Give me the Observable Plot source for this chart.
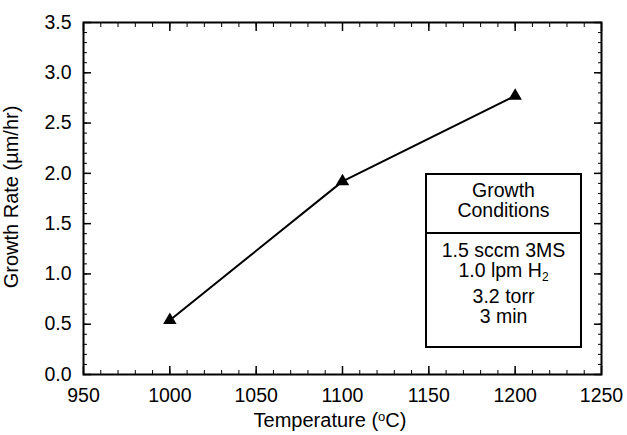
<!DOCTYPE html>
<html><head><meta charset="utf-8">
<script src="https://cdn.jsdelivr.net/npm/d3@7"></script>
<script src="https://cdn.jsdelivr.net/npm/@observablehq/plot@0.6"></script>
<style>
body{margin:0;background:#fff;font-family:"Liberation Sans",Arial,sans-serif;}
#wrap{position:relative;width:627px;height:435px;}
#legend{position:absolute;left:425px;top:173px;width:153px;height:171px;border:2px solid #000;box-sizing:content-box;font-size:19.5px;text-align:center;line-height:20px;color:#000;}
#legend .head{height:59px;border-bottom:2.5px solid #000;padding-top:5px;box-sizing:border-box;}
#legend .body{padding-top:6px;}
#legend sub{font-size:12px;vertical-align:-4px;line-height:0;}
</style></head>
<body><div id="wrap"><div id="legend"><div class="head">Growth<br>Conditions</div><div class="body">1.5 sccm 3MS<br>1.0 lpm H<sub>2</sub><div style="margin-top:6px">3.2 torr<br>3 min</div></div></div></div>
<script>
const temperature = [1000, 1100, 1200];
const growthRate = [0.54, 1.92, 2.77];
const xTicks = [950, 1000, 1050, 1100, 1150, 1200, 1250];
const yTicks = [0, 0.5, 1.0, 1.5, 2.0, 2.5, 3.0, 3.5];
const xMinor = d3.range(950, 1251, 10);
const yMinor = d3.range(0, 36, 1).map(d => d / 10);

const data = temperature.map((t, i) => ({t, r: growthRate[i]}));
const font = "Liberation Sans, Arial, sans-serif";

const chart = Plot.plot({
  width: 627, height: 435,
  marginLeft: 83, marginRight: 26, marginTop: 22, marginBottom: 61,
  style: {fontFamily: font, fontSize: "19.5px", color: "#000", background: "white"},
  x: {domain: [950, 1250]},
  y: {domain: [0, 3.5]},
  marks: [
    Plot.frame({stroke: "#000", strokeWidth: 2}),
    Plot.axisX(xMinor, {anchor: "bottom", tickSize: -4, text: null, label: null, strokeWidth: 1}),
    Plot.axisX(xMinor, {anchor: "top", tickSize: -4, text: null, label: null, strokeWidth: 1}),
    Plot.axisY(yMinor, {anchor: "left", tickSize: -4, text: null, label: null, strokeWidth: 1}),
    Plot.axisY(yMinor, {anchor: "right", tickSize: -4, text: null, label: null, strokeWidth: 1}),
    Plot.axisX(xTicks, {anchor: "bottom", tickSize: -8, text: null, label: null, strokeWidth: 1.5}),
    Plot.axisX(xTicks, {anchor: "top", tickSize: -8, text: null, label: null, strokeWidth: 1.5}),
    Plot.axisY(yTicks, {anchor: "left", tickSize: -8, text: null, label: null, strokeWidth: 1.5}),
    Plot.axisY(yTicks, {anchor: "right", tickSize: -8, text: null, label: null, strokeWidth: 1.5}),
    Plot.axisX(xTicks, {anchor: "bottom", tickSize: 0, tickPadding: 14, label: null, tickFormat: d => String(d)}),
    Plot.axisY(yTicks, {anchor: "left", tickSize: 0, tickPadding: 12, label: null, tickFormat: d => d.toFixed(1)}),
    Plot.line(data, {x: "t", y: "r", stroke: "#000", strokeWidth: 2}),
    Plot.dot(data, {x: "t", y: "r", symbol: "triangle", r: 5, fill: "#000", stroke: "none"})
  ]
});

const svg = d3.select(chart);
svg.selectAll("text").style("font-size", "19.5px");
svg.append("text")
  .attr("x", 330).attr("y", 427)
  .attr("text-anchor", "middle")
  .attr("font-family", font).attr("font-size", 20)
  .html('Temperature (<tspan dy="-6" font-size="13">o</tspan><tspan dy="6">C)</tspan>');
svg.append("text")
  .attr("transform", "translate(18,197) rotate(-90)")
  .attr("text-anchor", "middle")
  .attr("font-family", font).attr("font-size", 20)
  .text("Growth Rate (µm/hr)");

document.getElementById("wrap").prepend(chart);
chart.style.position = "absolute"; chart.style.left = "0"; chart.style.top = "0";
</script></body></html>
